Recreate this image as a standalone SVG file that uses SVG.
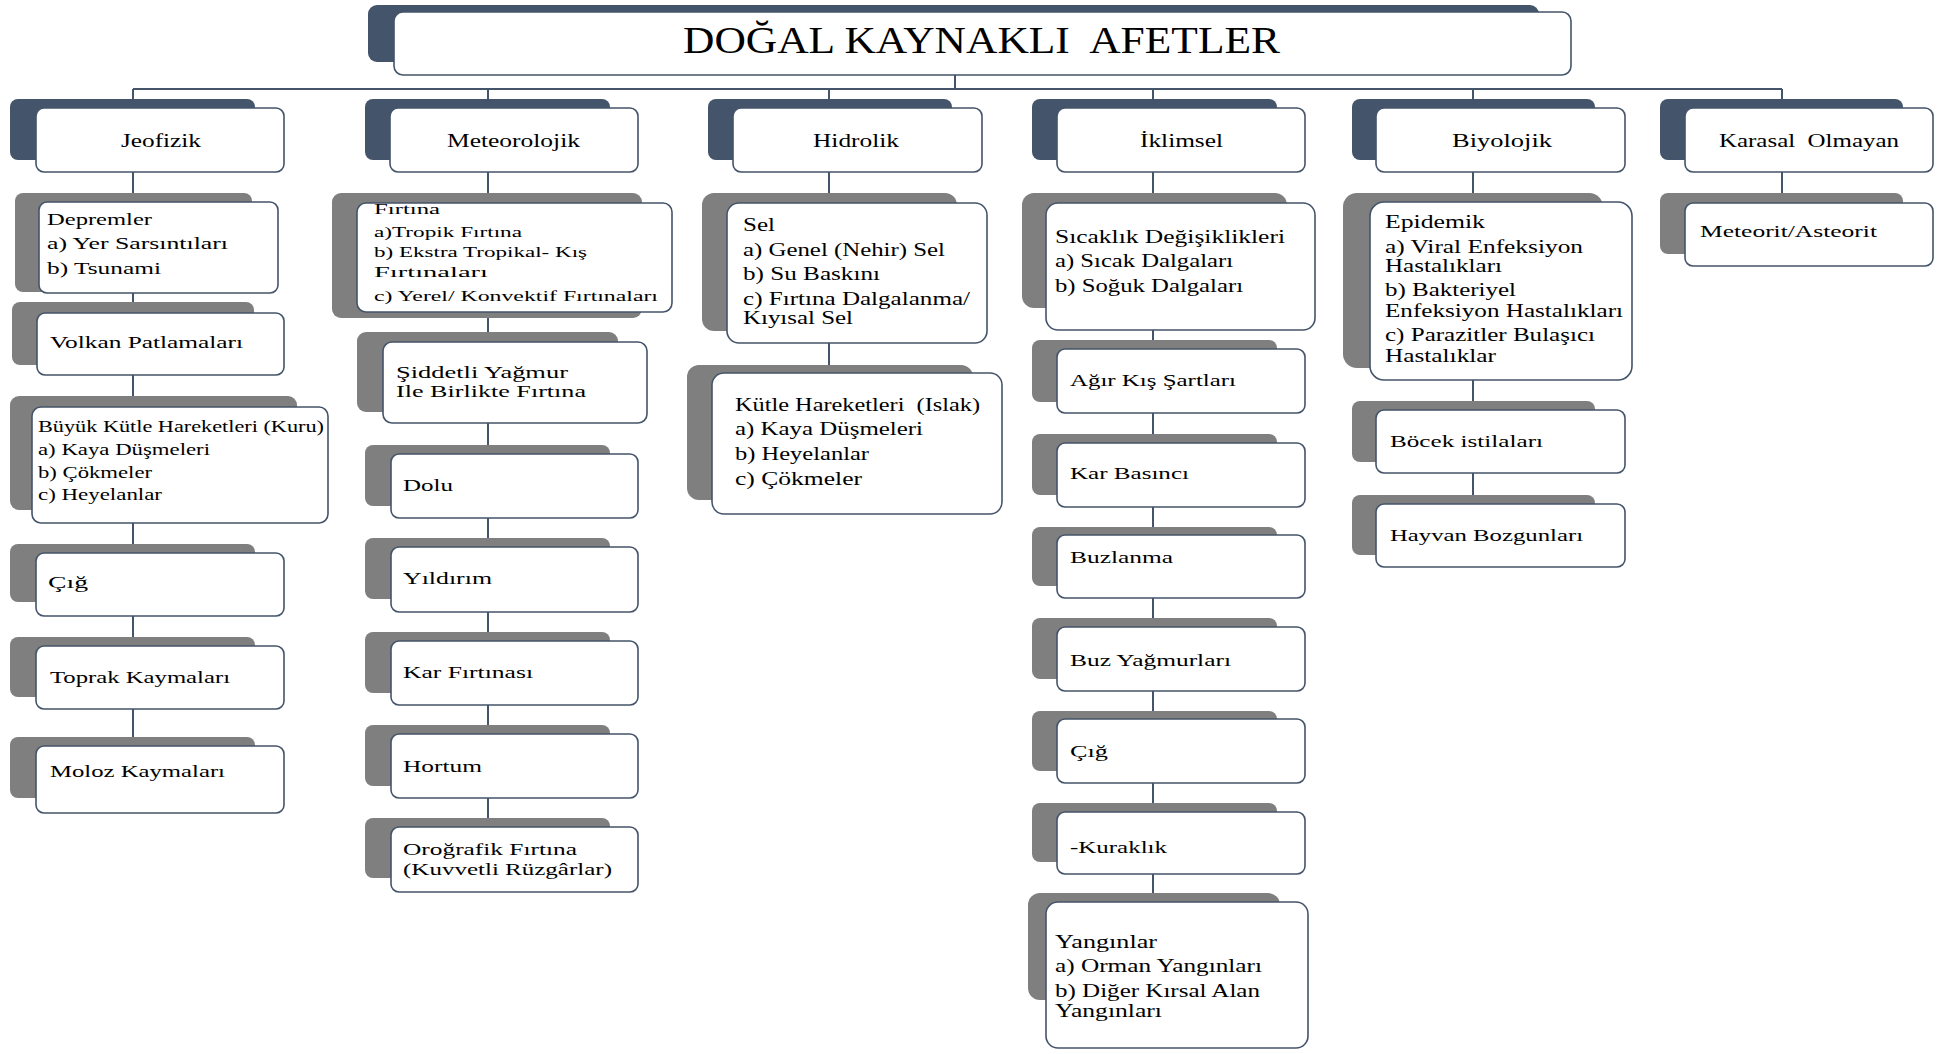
<svg xmlns="http://www.w3.org/2000/svg" width="1941" height="1054" viewBox="0 0 1941 1054">
<style>
.dk{fill:#44546a}
.gr{fill:#7f7f7f}
.fr{fill:#ffffff;stroke:#44546a;stroke-width:1.6}
text{font-family:"Liberation Serif","Times New Roman",serif;fill:#000;white-space:pre}
.ti{font-size:37px}
.c{font-size:19px}
.t{font-size:17px}
.s{font-size:15px}
.s2{font-size:16px}
.m{font-size:18px}
.ln{stroke:#44546a;stroke-width:2;fill:none}
</style>
<rect width="1941" height="1054" fill="#ffffff"/>
<g id="connectors">
<path class="ln" d="M955 75V89M133 89H1782M133 89V108M488 89V108M829 89V108M1153 89V108M1473 89V108M1782 89V108"/>
<path class="ln" d="M133 172V750M488 172V830M829 172V375M1153 172V905M1473 172V505M1782 172V205"/>
</g>
<g id="title">
<rect class="dk" x="368" y="5" width="1171" height="57" rx="9"/>
<rect class="fr" x="394" y="12" width="1177" height="63" rx="9"/>
<text class="ti" x="683" y="53" textLength="597" lengthAdjust="spacingAndGlyphs" xml:space="preserve">DOĞAL KAYNAKLI  AFETLER</text>
</g>
<!-- Column 1 -->
<g id="jeofizik">
<rect class="dk" x="10" y="99" width="245" height="61" rx="8"/>
<rect class="fr" x="36" y="108" width="248" height="64" rx="8"/>
<text class="c" x="121" y="147" textLength="80" lengthAdjust="spacingAndGlyphs">Jeofizik</text>
</g>
<g id="depremler">
<rect class="gr" x="15" y="193" width="237" height="99" rx="8"/>
<rect class="fr" x="39" y="202" width="239" height="91" rx="8"/>
<text class="t" x="47" y="225" textLength="105" lengthAdjust="spacingAndGlyphs">Depremler</text>
<text class="t" x="47" y="249" textLength="181" lengthAdjust="spacingAndGlyphs">a) Yer Sarsıntıları</text>
<text class="t" x="47" y="274" textLength="114" lengthAdjust="spacingAndGlyphs">b) Tsunami</text>
</g>
<g id="volkan">
<rect class="gr" x="12" y="302" width="242" height="63" rx="8"/>
<rect class="fr" x="37" y="313" width="247" height="62" rx="8"/>
<text class="t" x="50" y="348" textLength="193" lengthAdjust="spacingAndGlyphs">Volkan Patlamaları</text>
</g>
<g id="buyuk-kutle">
<rect class="gr" x="10" y="396" width="287" height="114" rx="9"/>
<rect class="fr" x="32" y="407" width="296" height="116" rx="9"/>
<text class="s2" x="38" y="432" textLength="286" lengthAdjust="spacingAndGlyphs">Büyük Kütle Hareketleri (Kuru)</text>
<text class="s2" x="38" y="455" textLength="172" lengthAdjust="spacingAndGlyphs">a) Kaya Düşmeleri</text>
<text class="s2" x="38" y="478" textLength="114" lengthAdjust="spacingAndGlyphs">b) Çökmeler</text>
<text class="s2" x="38" y="500" textLength="124" lengthAdjust="spacingAndGlyphs">c) Heyelanlar</text>
</g>
<g id="cig1">
<rect class="gr" x="10" y="544" width="245" height="58" rx="8"/>
<rect class="fr" x="36" y="553" width="248" height="63" rx="8"/>
<text class="t" x="48" y="588" textLength="40" lengthAdjust="spacingAndGlyphs">Çığ</text>
</g>
<g id="toprak">
<rect class="gr" x="10" y="637" width="245" height="60" rx="8"/>
<rect class="fr" x="36" y="646" width="248" height="63" rx="8"/>
<text class="t" x="50" y="683" textLength="180" lengthAdjust="spacingAndGlyphs">Toprak Kaymaları</text>
</g>
<g id="moloz">
<rect class="gr" x="10" y="737" width="245" height="61" rx="8"/>
<rect class="fr" x="36" y="746" width="248" height="67" rx="8"/>
<text class="t" x="50" y="777" textLength="175" lengthAdjust="spacingAndGlyphs">Moloz Kaymaları</text>
</g>
<!-- Column 2 -->
<g id="meteorolojik">
<rect class="dk" x="365" y="99" width="245" height="61" rx="8"/>
<rect class="fr" x="390" y="108" width="248" height="64" rx="8"/>
<text class="c" x="447" y="147" textLength="133" lengthAdjust="spacingAndGlyphs">Meteorolojik</text>
</g>
<g id="firtina">
<rect class="gr" x="332" y="193" width="310" height="125" rx="9"/>
<rect class="fr" x="357" y="203" width="315" height="109" rx="9"/>
<text class="s" x="374" y="214" textLength="66" lengthAdjust="spacingAndGlyphs">Fırtına</text>
<text class="s" x="374" y="237" textLength="148" lengthAdjust="spacingAndGlyphs">a)Tropik Fırtına</text>
<text class="s" x="374" y="257" textLength="213" lengthAdjust="spacingAndGlyphs">b) Ekstra Tropikal- Kış</text>
<text class="s" x="374" y="277" textLength="114" lengthAdjust="spacingAndGlyphs">Fırtınaları</text>
<text class="s" x="374" y="301" textLength="284" lengthAdjust="spacingAndGlyphs">c) Yerel/ Konvektif Fırtınaları</text>
</g>
<g id="siddetli">
<rect class="gr" x="357" y="332" width="261" height="80" rx="9"/>
<rect class="fr" x="383" y="342" width="264" height="81" rx="9"/>
<text class="t" x="396" y="378" textLength="172" lengthAdjust="spacingAndGlyphs">Şiddetli Yağmur</text>
<text class="t" x="396" y="397" textLength="190" lengthAdjust="spacingAndGlyphs">Ile Birlikte Fırtına</text>
</g>
<g id="dolu">
<rect class="gr" x="365" y="445" width="245" height="61" rx="8"/>
<rect class="fr" x="391" y="454" width="247" height="64" rx="8"/>
<text class="t" x="403" y="491" textLength="50" lengthAdjust="spacingAndGlyphs">Dolu</text>
</g>
<g id="yildirim">
<rect class="gr" x="365" y="538" width="245" height="61" rx="8"/>
<rect class="fr" x="391" y="547" width="247" height="65" rx="8"/>
<text class="t" x="403" y="584" textLength="89" lengthAdjust="spacingAndGlyphs">Yıldırım</text>
</g>
<g id="kar-firtinasi">
<rect class="gr" x="365" y="632" width="245" height="61" rx="8"/>
<rect class="fr" x="391" y="641" width="247" height="64" rx="8"/>
<text class="t" x="403" y="678" textLength="130" lengthAdjust="spacingAndGlyphs">Kar Fırtınası</text>
</g>
<g id="hortum">
<rect class="gr" x="365" y="725" width="245" height="61" rx="8"/>
<rect class="fr" x="391" y="734" width="247" height="64" rx="8"/>
<text class="t" x="403" y="772" textLength="79" lengthAdjust="spacingAndGlyphs">Hortum</text>
</g>
<g id="orografik">
<rect class="gr" x="365" y="818" width="245" height="60" rx="8"/>
<rect class="fr" x="391" y="827" width="247" height="65" rx="8"/>
<text class="t" x="403" y="855" textLength="174" lengthAdjust="spacingAndGlyphs">Oroğrafik Fırtına</text>
<text class="t" x="403" y="875" textLength="209" lengthAdjust="spacingAndGlyphs">(Kuvvetli Rüzgârlar)</text>
</g>
<!-- Column 3 -->
<g id="hidrolik">
<rect class="dk" x="708" y="99" width="244" height="61" rx="8"/>
<rect class="fr" x="733" y="108" width="249" height="64" rx="8"/>
<text class="c" x="813" y="147" textLength="86" lengthAdjust="spacingAndGlyphs">Hidrolik</text>
</g>
<g id="sel">
<rect class="gr" x="702" y="193" width="255" height="138" rx="12"/>
<rect class="fr" x="727" y="203" width="260" height="140" rx="12"/>
<text class="m" x="743" y="231" textLength="32" lengthAdjust="spacingAndGlyphs">Sel</text>
<text class="m" x="743" y="256" textLength="202" lengthAdjust="spacingAndGlyphs">a) Genel (Nehir) Sel</text>
<text class="m" x="743" y="280" textLength="137" lengthAdjust="spacingAndGlyphs">b) Su Baskını</text>
<text class="m" x="743" y="305" textLength="227" lengthAdjust="spacingAndGlyphs">c) Fırtına Dalgalanma/</text>
<text class="m" x="743" y="324" textLength="110" lengthAdjust="spacingAndGlyphs">Kıyısal Sel</text>
</g>
<g id="kutle-islak">
<rect class="gr" x="687" y="365" width="286" height="135" rx="12"/>
<rect class="fr" x="712" y="373" width="290" height="141" rx="12"/>
<text class="m" x="735" y="411" textLength="245" lengthAdjust="spacingAndGlyphs" xml:space="preserve">Kütle Hareketleri  (Islak)</text>
<text class="m" x="735" y="435" textLength="188" lengthAdjust="spacingAndGlyphs">a) Kaya Düşmeleri</text>
<text class="m" x="735" y="460" textLength="134" lengthAdjust="spacingAndGlyphs">b) Heyelanlar</text>
<text class="m" x="735" y="485" textLength="127" lengthAdjust="spacingAndGlyphs">c) Çökmeler</text>
</g>
<!-- Column 4 -->
<g id="iklimsel">
<rect class="dk" x="1032" y="99" width="245" height="61" rx="8"/>
<rect class="fr" x="1057" y="108" width="248" height="64" rx="8"/>
<text class="c" x="1140" y="147" textLength="83" lengthAdjust="spacingAndGlyphs">İklimsel</text>
</g>
<g id="sicaklik">
<rect class="gr" x="1022" y="193" width="265" height="115" rx="12"/>
<rect class="fr" x="1046" y="203" width="269" height="127" rx="12"/>
<text class="m" x="1055" y="243" textLength="230" lengthAdjust="spacingAndGlyphs">Sıcaklık Değişiklikleri</text>
<text class="m" x="1055" y="267" textLength="178" lengthAdjust="spacingAndGlyphs">a) Sıcak Dalgaları</text>
<text class="m" x="1055" y="292" textLength="188" lengthAdjust="spacingAndGlyphs">b) Soğuk Dalgaları</text>
</g>
<g id="agir-kis">
<rect class="gr" x="1032" y="340" width="245" height="62" rx="8"/>
<rect class="fr" x="1057" y="349" width="248" height="64" rx="8"/>
<text class="t" x="1070" y="386" textLength="166" lengthAdjust="spacingAndGlyphs">Ağır Kış Şartları</text>
</g>
<g id="kar-basinci">
<rect class="gr" x="1032" y="434" width="245" height="61" rx="8"/>
<rect class="fr" x="1057" y="443" width="248" height="64" rx="8"/>
<text class="t" x="1070" y="479" textLength="119" lengthAdjust="spacingAndGlyphs">Kar Basıncı</text>
</g>
<g id="buzlanma">
<rect class="gr" x="1032" y="527" width="245" height="59" rx="8"/>
<rect class="fr" x="1057" y="535" width="248" height="63" rx="8"/>
<text class="t" x="1070" y="563" textLength="103" lengthAdjust="spacingAndGlyphs">Buzlanma</text>
</g>
<g id="buz-yagmurlari">
<rect class="gr" x="1032" y="618" width="245" height="61" rx="8"/>
<rect class="fr" x="1057" y="627" width="248" height="64" rx="8"/>
<text class="t" x="1070" y="666" textLength="161" lengthAdjust="spacingAndGlyphs">Buz Yağmurları</text>
</g>
<g id="cig2">
<rect class="gr" x="1032" y="711" width="245" height="60" rx="8"/>
<rect class="fr" x="1057" y="719" width="248" height="64" rx="8"/>
<text class="t" x="1070" y="757" textLength="38" lengthAdjust="spacingAndGlyphs">Çığ</text>
</g>
<g id="kuraklik">
<rect class="gr" x="1032" y="803" width="245" height="59" rx="8"/>
<rect class="fr" x="1057" y="812" width="248" height="62" rx="8"/>
<text class="t" x="1070" y="853" textLength="97" lengthAdjust="spacingAndGlyphs">-Kuraklık</text>
</g>
<g id="yanginlar">
<rect class="gr" x="1028" y="893" width="252" height="107" rx="12"/>
<rect class="fr" x="1046" y="902" width="262" height="146" rx="12"/>
<text class="m" x="1055" y="948" textLength="102" lengthAdjust="spacingAndGlyphs">Yangınlar</text>
<text class="m" x="1055" y="972" textLength="207" lengthAdjust="spacingAndGlyphs">a) Orman Yangınları</text>
<text class="m" x="1055" y="997" textLength="205" lengthAdjust="spacingAndGlyphs">b) Diğer Kırsal Alan</text>
<text class="m" x="1055" y="1017" textLength="107" lengthAdjust="spacingAndGlyphs">Yangınları</text>
</g>
<!-- Column 5 -->
<g id="biyolojik">
<rect class="dk" x="1352" y="99" width="243" height="61" rx="8"/>
<rect class="fr" x="1376" y="108" width="249" height="64" rx="8"/>
<text class="c" x="1452" y="147" textLength="100" lengthAdjust="spacingAndGlyphs">Biyolojik</text>
</g>
<g id="epidemik">
<rect class="gr" x="1343" y="193" width="260" height="175" rx="14"/>
<rect class="fr" x="1370" y="202" width="262" height="178" rx="14"/>
<text class="m" x="1385" y="228" textLength="100" lengthAdjust="spacingAndGlyphs">Epidemik</text>
<text class="m" x="1385" y="253" textLength="198" lengthAdjust="spacingAndGlyphs">a) Viral Enfeksiyon</text>
<text class="m" x="1385" y="272" textLength="117" lengthAdjust="spacingAndGlyphs">Hastalıkları</text>
<text class="m" x="1385" y="296" textLength="131" lengthAdjust="spacingAndGlyphs">b) Bakteriyel</text>
<text class="m" x="1385" y="317" textLength="238" lengthAdjust="spacingAndGlyphs">Enfeksiyon Hastalıkları</text>
<text class="m" x="1385" y="341" textLength="210" lengthAdjust="spacingAndGlyphs">c) Parazitler Bulaşıcı</text>
<text class="m" x="1385" y="362" textLength="111" lengthAdjust="spacingAndGlyphs">Hastalıklar</text>
</g>
<g id="bocek">
<rect class="gr" x="1352" y="401" width="243" height="61" rx="8"/>
<rect class="fr" x="1376" y="410" width="249" height="63" rx="8"/>
<text class="t" x="1390" y="447" textLength="153" lengthAdjust="spacingAndGlyphs">Böcek istilaları</text>
</g>
<g id="hayvan">
<rect class="gr" x="1352" y="495" width="243" height="60" rx="8"/>
<rect class="fr" x="1376" y="504" width="249" height="63" rx="8"/>
<text class="t" x="1390" y="541" textLength="193" lengthAdjust="spacingAndGlyphs">Hayvan Bozgunları</text>
</g>
<!-- Column 6 -->
<g id="karasal">
<rect class="dk" x="1660" y="99" width="243" height="61" rx="8"/>
<rect class="fr" x="1685" y="108" width="248" height="64" rx="8"/>
<text class="c" x="1719" y="147" textLength="180" lengthAdjust="spacingAndGlyphs" xml:space="preserve">Karasal  Olmayan</text>
</g>
<g id="meteorit">
<rect class="gr" x="1660" y="193" width="243" height="61" rx="8"/>
<rect class="fr" x="1685" y="203" width="248" height="63" rx="8"/>
<text class="t" x="1700" y="237" textLength="177" lengthAdjust="spacingAndGlyphs">Meteorit/Asteorit</text>
</g>
</svg>
